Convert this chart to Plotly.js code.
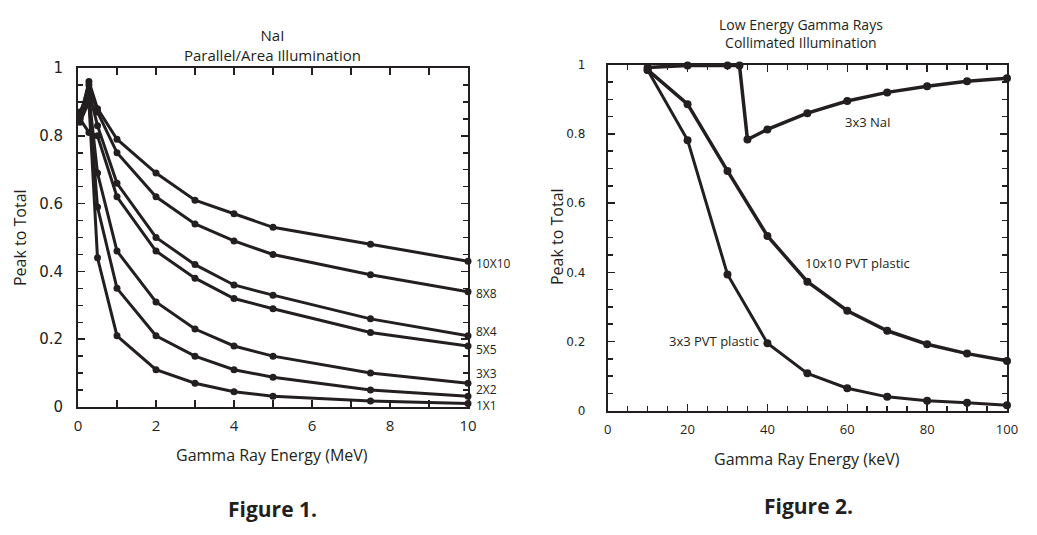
<!DOCTYPE html>
<html>
<head>
<meta charset="utf-8">
<script src="https://cdn.plot.ly/plotly-3.0.1.min.js"></script>
<style>html,body{margin:0;padding:0;background:#fff;}#chart{width:1037px;height:535px;}</style>
</head>
<body>
<div id="chart"></div>
<script>
// ---------- Figure 1 data (NaI, MeV) ----------
const energyMeV = [0.05, 0.28, 0.5, 1, 2, 3, 4, 5, 7.5, 10];
const nai10x10 = [0.85, 0.96, 0.88, 0.79, 0.69, 0.61, 0.57, 0.53, 0.48, 0.43];
const nai8x8   = [0.86, 0.95, 0.87, 0.75, 0.62, 0.54, 0.49, 0.45, 0.39, 0.34];
const nai8x4   = [0.87, 0.93, 0.83, 0.66, 0.50, 0.42, 0.36, 0.33, 0.26, 0.21];
const nai5x5   = [0.85, 0.81, 0.80, 0.62, 0.46, 0.38, 0.32, 0.29, 0.22, 0.18];
const nai3x3   = [0.86, 0.92, 0.69, 0.46, 0.31, 0.23, 0.18, 0.15, 0.10, 0.07];
const nai2x2   = [0.86, 0.91, 0.59, 0.35, 0.21, 0.15, 0.11, 0.088, 0.05, 0.032];
const nai1x1   = [0.84, 0.90, 0.44, 0.21, 0.11, 0.07, 0.045, 0.032, 0.018, 0.01];
const naiLabels = ["10X10", "8X8", "8X4", "5X5", "3X3", "2X2", "1X1"];

// ---------- Figure 2 data (low energy, keV) ----------
const energyNaI3x3 = [10, 20, 30, 33, 35, 40, 50, 60, 70, 80, 90, 100];
const nai3x3Low    = [0.992, 0.998, 0.998, 0.998, 0.784, 0.813, 0.86, 0.895, 0.92, 0.938, 0.952, 0.961];
const energyPVT    = [10, 20, 30, 40, 50, 60, 70, 80, 90, 100];
const pvt10x10     = [0.985, 0.886, 0.693, 0.505, 0.373, 0.289, 0.231, 0.192, 0.165, 0.144];
const pvt3x3       = [0.985, 0.782, 0.394, 0.195, 0.108, 0.065, 0.040, 0.029, 0.023, 0.016];
const lowLabels = ["3x3 NaI", "10x10 PVT plastic", "3x3 PVT plastic"];

const INK = '#231f20';
const W = 1037, H = 535;
const px = x => x / W;
const py = y => 1 - y / H;

const naiSeries = [nai10x10, nai8x8, nai8x4, nai5x5, nai3x3, nai2x2, nai1x1];
const traces = [];
naiSeries.forEach((ys, i) => {
  traces.push({
    x: energyMeV, y: ys, type: 'scatter', mode: 'lines+markers',
    name: naiLabels[i], xaxis: 'x', yaxis: 'y',
    line: {color: INK, width: 3}, marker: {color: INK, size: 7},
    cliponaxis: false
  });
});
traces.push({x: energyNaI3x3, y: nai3x3Low, type: 'scatter', mode: 'lines+markers', name: lowLabels[0],
  xaxis: 'x2', yaxis: 'y2', line: {color: INK, width: 3.5}, marker: {color: INK, size: 8}, cliponaxis: false});
traces.push({x: energyPVT, y: pvt10x10, type: 'scatter', mode: 'lines+markers', name: lowLabels[1],
  xaxis: 'x2', yaxis: 'y2', line: {color: INK, width: 3.5}, marker: {color: INK, size: 8}, cliponaxis: false});
traces.push({x: energyPVT, y: pvt3x3, type: 'scatter', mode: 'lines+markers', name: lowLabels[2],
  xaxis: 'x2', yaxis: 'y2', line: {color: INK, width: 3}, marker: {color: INK, size: 8}, cliponaxis: false});

const axisCommon = {
  showgrid: false, zeroline: false, showline: true, linecolor: INK, linewidth: 2,
  mirror: 'ticks', ticks: 'inside', ticklen: 7, tickwidth: 1.5, tickcolor: INK
};

const naiLabelY = [263, 293, 331, 349, 373, 389, 405];
const annotations = [];
naiLabels.forEach((t, i) => annotations.push({
  text: t, xref: 'paper', yref: 'paper', x: px(474), y: py(naiLabelY[i]),
  xanchor: 'left', yanchor: 'middle', showarrow: false,
  font: {family: 'Open Sans', size: 12, color: INK}
}));
const txt = (text, x, y, size, opts = {}) => Object.assign({
  text, xref: 'paper', yref: 'paper', x: px(x), y: py(y), xanchor: 'center', yanchor: 'middle',
  showarrow: false, font: {family: 'Open Sans', size, color: INK}
}, opts);
annotations.push(txt('NaI<br>Parallel/Area Illumination', 272, 45, 15));
annotations.push(txt('Gamma Ray Energy (MeV)', 272, 455, 16));
annotations.push(txt('Peak to Total', 20, 238, 16, {textangle: -90}));
annotations.push(txt('<b>Figure 1.</b>', 272, 509, 21));
annotations.push(txt('Low Energy Gamma Rays<br>Collimated Illumination', 801, 34, 14));
annotations.push(txt('Gamma Ray Energy (keV)', 807, 459, 16));
annotations.push(txt('Peak to Total', 557, 237, 16, {textangle: -90}));
annotations.push(txt('<b>Figure 2.</b>', 808, 506, 21));
annotations.push(txt(lowLabels[0], 868, 122, 13));
annotations.push(txt(lowLabels[1], 803, 263, 13, {xanchor: 'left'}));
annotations.push(txt(lowLabels[2], 667, 341, 13, {xanchor: 'left'}));

const layout = {
  width: W, height: H, margin: {l: 0, r: 0, t: 0, b: 0},
  paper_bgcolor: '#fff', plot_bgcolor: '#fff', showlegend: false,
  font: {family: 'Open Sans', color: INK},
  xaxis: Object.assign({}, axisCommon, {
    domain: [px(78), px(468)], range: [0, 10], dtick: 2, tick0: 0, anchor: 'y',
    minor: {dtick: 1, ticks: 'inside', ticklen: 7, tickcolor: INK},
    tickfont: {family: 'Open Sans', size: 15, color: INK}, ticklabelstandoff: 4
  }),
  yaxis: Object.assign({}, axisCommon, {
    domain: [py(407), py(68)], range: [0, 1], dtick: 0.2, tick0: 0, anchor: 'x',
    minor: {dtick: 0.05, ticks: 'inside', ticklen: 5, tickcolor: INK},
    tickfont: {family: 'DejaVu Sans', size: 15, color: INK}, ticklabelstandoff: 10
  }),
  xaxis2: Object.assign({}, axisCommon, {
    domain: [px(607.7), px(1007)], range: [0, 100], dtick: 20, tick0: 0, anchor: 'y2',
    minor: {dtick: 5, ticks: 'inside', ticklen: 5, tickcolor: INK},
    tickfont: {family: 'Open Sans', size: 13, color: INK}, ticklabelstandoff: 6
  }),
  yaxis2: Object.assign({}, axisCommon, {
    domain: [py(410.7), py(64.7)], range: [0, 1], dtick: 0.2, tick0: 0, anchor: 'x2',
    minor: {dtick: 0.05, ticks: 'inside', ticklen: 5, tickcolor: INK},
    tickfont: {family: 'DejaVu Sans', size: 12, color: INK}, ticklabelstandoff: 18
  }),
  annotations
};

Plotly.newPlot('chart', traces, layout, {displayModeBar: false, staticPlot: true});
</script>
</body>
</html>
